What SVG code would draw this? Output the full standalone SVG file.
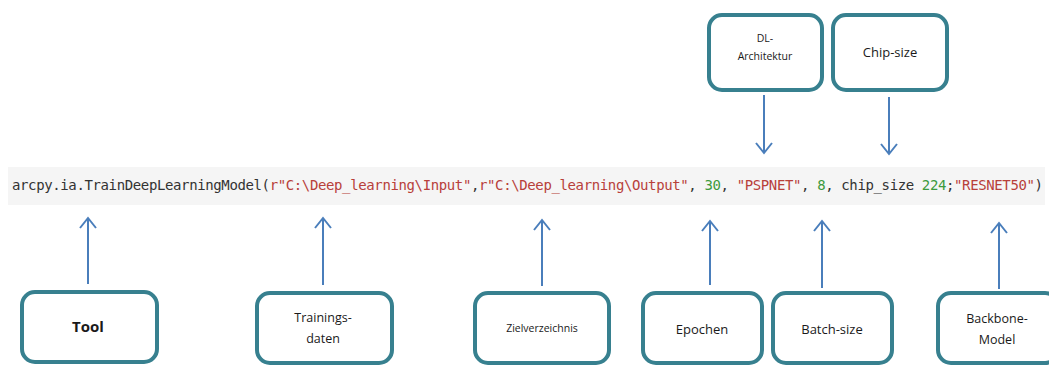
<svg xmlns="http://www.w3.org/2000/svg" width="1049" height="365" viewBox="0 0 1049 365">
  <style>
    .box { fill: #ffffff; stroke: #37808f; stroke-width: 4; }
    .lbl { font-family: "Open Sans", "Liberation Sans", sans-serif; fill: #1a1a1a; text-anchor: middle; }
    .code { font-family: "DejaVu Sans Mono", "Liberation Mono", monospace; font-size: 14px; fill: #333333; }
    .str { fill: #b8403a; }
    .num { fill: #3d9a3d; }
    .arrow { stroke: #4a7ebb; stroke-width: 2; fill: none; marker-end: url(#chev); }
  </style>
  <defs>
    <marker id="chev" viewBox="-12 -10 14 20" markerWidth="14" markerHeight="20" refX="0" refY="0" orient="auto" markerUnits="userSpaceOnUse">
      <path d="M-10,-8 L0,0 L-10,8" fill="none" stroke="#4a7ebb" stroke-width="2"/>
    </marker>
  </defs>

  <rect width="1049" height="365" fill="#ffffff"/>

  <!-- code line -->
  <g id="code">
    <rect x="8" y="167" width="1037" height="38" fill="#f5f5f5"/>
    <text class="code" x="12" y="190" textLength="1031" lengthAdjust="spacing">arcpy.ia.TrainDeepLearningModel(<tspan class="str">r"C:\Deep_learning\Input"</tspan>,<tspan class="str">r"C:\Deep_learning\Output"</tspan>, <tspan class="num">30</tspan>, <tspan class="str">"PSPNET"</tspan>, <tspan class="num">8</tspan>, chip_size <tspan class="num">224</tspan>;<tspan class="str">"RESNET50"</tspan>)</text>
  </g>

  <!-- top nodes -->
  <g id="dl-architektur">
    <rect class="box" x="709" y="15" width="113" height="75" rx="13"/>
    <text class="lbl" x="765" y="42" font-size="10.5">DL-</text>
    <text class="lbl" x="765" y="60" font-size="10.5">Architektur</text>
  </g>
  <g id="chip-size">
    <rect class="box" x="833" y="15" width="114" height="75" rx="13"/>
    <text class="lbl" x="890" y="57" font-size="13">Chip-size</text>
  </g>

  <!-- bottom nodes -->
  <g id="tool">
    <rect class="box" x="22" y="292" width="135" height="70" rx="13"/>
    <text class="lbl" x="88" y="332" font-size="15" font-weight="bold">Tool</text>
  </g>
  <g id="trainingsdaten">
    <rect class="box" x="257" y="293" width="135" height="70" rx="13"/>
    <text class="lbl" x="323" y="322" font-size="12.5">Trainings-</text>
    <text class="lbl" x="323" y="343" font-size="12.5">daten</text>
  </g>
  <g id="zielverzeichnis">
    <rect class="box" x="475" y="293" width="134" height="70" rx="13"/>
    <text class="lbl" x="542" y="332" font-size="10.5">Zielverzeichnis</text>
  </g>
  <g id="epochen">
    <rect class="box" x="643" y="293" width="119" height="70" rx="13"/>
    <text class="lbl" x="702" y="334" font-size="13">Epochen</text>
  </g>
  <g id="batch-size">
    <rect class="box" x="773" y="293" width="119" height="70" rx="13"/>
    <text class="lbl" x="832" y="334" font-size="13">Batch-size</text>
  </g>
  <g id="backbone-model">
    <rect class="box" x="938" y="293" width="120" height="70" rx="13"/>
    <text class="lbl" x="997" y="323" font-size="12.5">Backbone-</text>
    <text class="lbl" x="997" y="344" font-size="12.5">Model</text>
  </g>

  <!-- connectors -->
  <g id="connectors">
    <line class="arrow" x1="764" y1="95" x2="764" y2="153"/>
    <line class="arrow" x1="889" y1="97" x2="889" y2="154"/>
    <line class="arrow" x1="88" y1="284" x2="88" y2="218"/>
    <line class="arrow" x1="323" y1="285" x2="323" y2="218"/>
    <line class="arrow" x1="542" y1="286" x2="542" y2="220"/>
    <line class="arrow" x1="710" y1="285" x2="710" y2="221"/>
    <line class="arrow" x1="822" y1="288" x2="822" y2="221"/>
    <line class="arrow" x1="999" y1="289" x2="999" y2="223"/>
  </g>
</svg>
